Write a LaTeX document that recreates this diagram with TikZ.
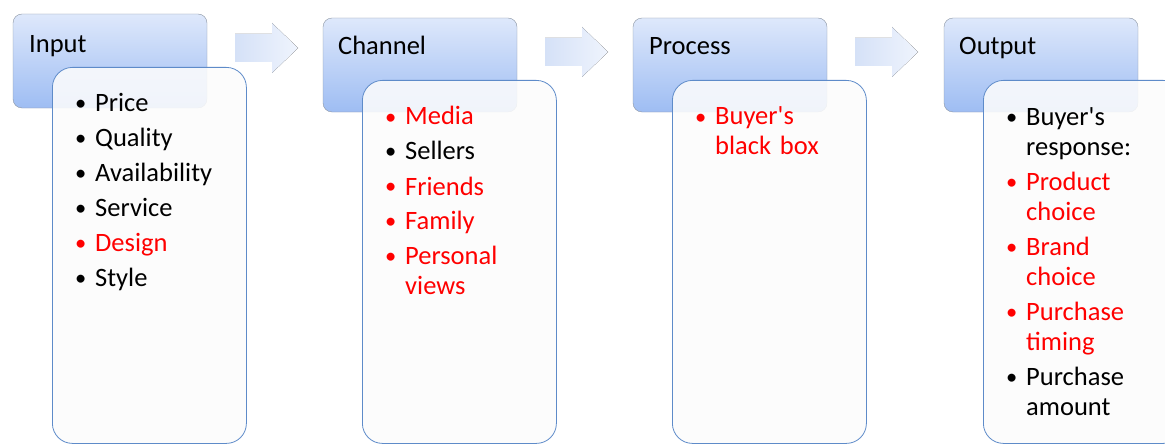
\documentclass[tikz,border=0pt]{standalone}
\usepackage{fontspec}
\setmainfont{Carlito}
\usetikzlibrary{positioning}

\definecolor{headtop}{HTML}{DEE8FB}
\definecolor{headbot}{HTML}{9EBDF3}
\definecolor{headline}{HTML}{8A94A2}
\definecolor{listline}{HTML}{5E8BC9}
\definecolor{listfill}{HTML}{FCFCFC}
\definecolor{arrowleft}{HTML}{D5E1F7}
\definecolor{arrowright}{HTML}{EFF4FD}
\definecolor{hot}{HTML}{FF0000}

% one bullet paragraph, wrapped lines hang under the first word
\newcommand\bitem[2]{\par{\color{#1}\hangindent=20pt\hangafter=1\noindent
  \makebox[20pt][l]{\raisebox{1pt}{\scalebox{0.85}{\textbullet}}}#2\par}}
\newcommand\apos{\textquotesingle}

\begin{document}
\begin{tikzpicture}
    [x=1pt, y=-1pt,
    font=\fontsize{26.5}{30}\selectfont,
    headbox/.style={rectangle, rounded corners=9pt, draw=headline, top color=headtop,
        bottom color=headbot, minimum width=194pt, minimum height=94pt, inner sep=0pt},
    headtext/.style={anchor=base west, inner sep=0pt},
    listbox/.style={rectangle, rounded corners=20pt, draw=listline, thick, fill=listfill,
        fill opacity=0.88, minimum width=194pt, minimum height=363pt, anchor=north west, inner sep=0pt},
    listtext/.style={anchor=base west, inner sep=0pt, text width=180pt, align=left,
        execute at begin node={\parskip=5pt}},
    blockarrow/.style={left color=arrowleft, right color=arrowright, draw=none}
    ]
    \useasboundingbox (0,0) rectangle (1165,444);

    % headers
    \node [headbox] (input) at (110,61) {};
    \node [headbox] (channel) at (420,65) {};
    \node [headbox] (process) at (730,65) {};
    \node [headbox] (output) at (1041,65) {};
    \node [headtext] (inputtitle) at (29,53) {Input};
    \node [headtext] (channeltitle) at (338,55) {Channel};
    \node [headtext] (processtitle) at (649,55) {Process};
    \node [headtext] (outputtitle) at (959,55) {Output};

    % block arrows between the headers
    \fill [blockarrow] (235,34) -- (272,34) -- (272,23) -- (298,48) -- (272,73) -- (272,62) -- (235,62) -- cycle;
    \fill [blockarrow] (545,38) -- (582,38) -- (582,27) -- (608,52) -- (582,77) -- (582,66) -- (545,66) -- cycle;
    \fill [blockarrow] (855,38) -- (892,38) -- (892,27) -- (918,52) -- (892,77) -- (892,66) -- (855,66) -- cycle;

    % lists
    \node [listbox, minimum height=376pt] (inputlist) at (52,67) {};
    \node [listbox] (channellist) at (362,80) {};
    \node [listbox] (processlist) at (672,80) {};
    \node [listbox, minimum width=200pt] (outputlist) at (983,80) {};

    \node [listtext] (inputitems) at (75,77) {%
        \bitem{black}{Price}
        \bitem{black}{Quality}
        \bitem{black}{Availability}
        \bitem{black}{Service}
        \bitem{hot}{Design}
        \bitem{black}{Style}};
    \node [listtext] (channelitems) at (385,90) {%
        \bitem{hot}{Media}
        \bitem{black}{Sellers}
        \bitem{hot}{Friends}
        \bitem{hot}{Family}
        \bitem{hot}{Personal\break views}};
    \node [listtext] (processitems) at (695,90) {%
        \bitem{hot}{Buyer\apos s\break black box}};
    \node [listtext] (outputitems) at (1006,91) {%
        \bitem{black}{Buyer\apos s\break response:}
        \bitem{hot}{Product\break choice}
        \bitem{hot}{Brand\break choice}
        \bitem{hot}{Purchase\break timing}
        \bitem{black}{Purchase\break amount}};
\end{tikzpicture}
\end{document}
